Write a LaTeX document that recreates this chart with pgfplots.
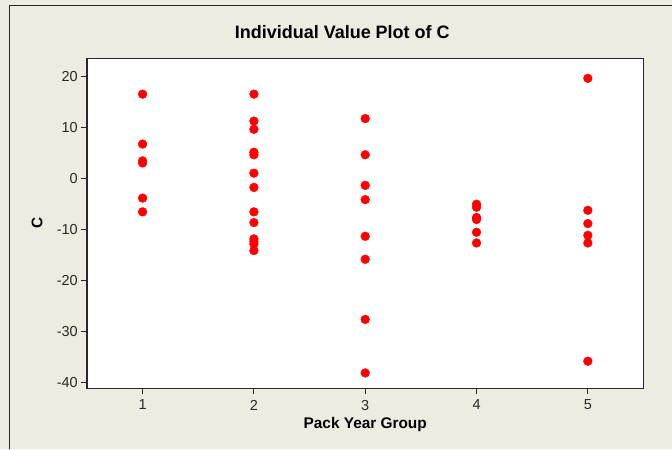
\documentclass[border=0pt]{standalone}
\usepackage{pgfplots}
\pgfplotsset{compat=1.18}
\usepackage{fontspec}
\setmainfont{Liberation Sans}
\definecolor{bgc}{RGB}{238,235,225}
\definecolor{ptred}{RGB}{255,0,0}
\definecolor{axc}{RGB}{40,40,40}
\begin{document}
\begin{tikzpicture}
\fill[bgc] (0pt,0pt) rectangle (672pt,449pt);
\draw[line width=1pt, axc] (9.5pt,0pt) -- (9.5pt,443.5pt) -- (672pt,443.5pt);
\begin{axis}[
  at={(87pt,60.5pt)}, anchor=south west,
  scale only axis, width=557pt, height=330pt,
  xmin=0.5, xmax=5.5, ymin=-41.2, ymax=23.5,
  axis background/.style={fill=white},
  axis line style={line width=1.2pt, axc},
  xtick={1,2,3,4,5}, ytick={-40,-30,-20,-10,0,10,20},
  xtick pos=bottom, ytick pos=left,
  tick align=outside, major tick length=6pt,
  tick style={line width=1pt, axc},
  /pgf/number format/assume math mode=true,
  ticklabel style={font=\fontsize{14.5}{16}\selectfont, text=axc},
  x tick label style={inner sep=0pt, yshift=-5.5pt},
  y tick label style={inner sep=0pt, xshift=-3pt},
  title={Individual Value Plot of C},
  title style={font=\bfseries\fontsize{18}{20}\selectfont, at={(0.4587,1)}, anchor=base, yshift=14pt, inner sep=0pt},
  xlabel={Pack Year Group},
  xlabel style={font=\bfseries\fontsize{15.4}{18}\selectfont, at={(0.5,0)}, anchor=base, yshift=-40.5pt, inner sep=0pt},
  ylabel={C},
  ylabel style={font=\bfseries\fontsize{15.4}{18}\selectfont, at={(0,0.5)}, anchor=center, yshift=50pt, inner sep=0pt},
]
\addplot[only marks, mark=*, mark size=4.4pt, mark options={draw=ptred, fill=ptred, line width=0.4pt}] coordinates {
(1,16.5) (1,6.7) (1,3.4) (1,3.0) (1,-3.9) (1,-6.6)
(2,16.5) (2,11.2) (2,9.6) (2,5.1) (2,4.6) (2,1.0) (2,-1.8) (2,-6.6) (2,-8.7) (2,-11.9) (2,-12.4) (2,-12.9) (2,-14.2)
(3,11.7) (3,4.6) (3,-1.4) (3,-4.2) (3,-11.4) (3,-15.9) (3,-27.7) (3,-38.2)
(4,-5.1) (4,-5.7) (4,-7.7) (4,-8.1) (4,-10.6) (4,-12.7)
(5,19.6) (5,-6.3) (5,-8.9) (5,-11.2) (5,-12.7) (5,-35.9)
};
\end{axis}
\end{tikzpicture}
\end{document}
